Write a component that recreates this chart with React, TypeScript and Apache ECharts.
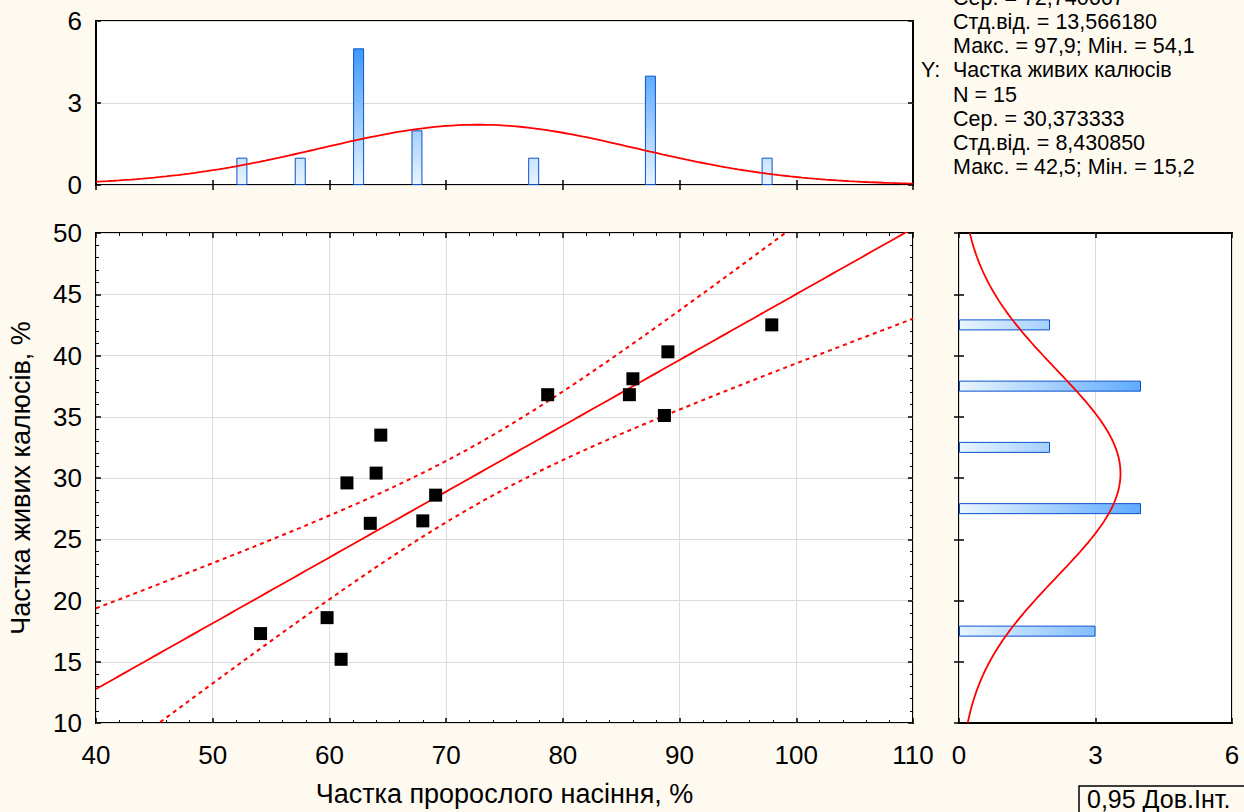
import React, { useEffect, useRef } from "react";
import * as echarts from "echarts";

// Scatter data: X = Частка пророслого насіння, %, Y = Частка живих калюсів, %
const xData = [54.1, 59.8, 61.0, 61.5, 63.5, 64.0, 64.4, 68.0, 69.1, 78.7, 85.7, 86.0, 88.7, 89.0, 97.9];
const yData = [17.3, 18.6, 15.2, 29.6, 26.3, 30.4, 33.5, 26.5, 28.6, 36.8, 36.8, 38.1, 35.1, 40.3, 42.5];

// Top histogram (X), bin centres and counts
const topBinCentres = [52.5, 57.5, 62.5, 67.5, 77.5, 87.5, 97.5];
const topCounts = [1, 1, 5, 2, 1, 4, 1];

// Right histogram (Y), bins 10-15 ... 45-50 and counts
const rightBins = ["10-15", "15-20", "20-25", "25-30", "30-35", "35-40", "40-45", "45-50"];
const rightCounts = [0, 3, 0, 4, 2, 4, 2, 0];

// Reported descriptive stats
const xMean = 72.740667;
const xSd = 13.56618;
const yMean = 30.373333;
const ySd = 8.43085;
const binWidth = 5;

const statLines = [
  "Сер. = 72,740667",
  "Стд.від. = 13,566180",
  "Макс. = 97,9; Мін. = 54,1",
  "Частка живих калюсів",
  "N = 15",
  "Сер. = 30,373333",
  "Стд.від. = 8,430850",
  "Макс. = 42,5; Мін. = 15,2",
];

const xTitle = "Частка пророслого насіння, %";
const yTitle = "Частка живих калюсів, %";
const legendText = "0,95 Дов.Інт.";

const FONT = '"Liberation Sans", Arial, sans-serif';

function normalPdf(v: number, m: number, s: number) {
  return Math.exp(-0.5 * ((v - m) / s) ** 2) / (s * Math.sqrt(2 * Math.PI));
}

function buildOption() {
  const n = xData.length;
  const mx = xData.reduce((a, b) => a + b, 0) / n;
  const my = yData.reduce((a, b) => a + b, 0) / n;
  let sxx = 0;
  let sxy = 0;
  for (let i = 0; i < n; i++) {
    sxx += (xData[i] - mx) ** 2;
    sxy += (xData[i] - mx) * (yData[i] - my);
  }
  const b = sxy / sxx;
  const a = my - b * mx;
  let sse = 0;
  for (let i = 0; i < n; i++) sse += (yData[i] - (a + b * xData[i])) ** 2;
  const s = Math.sqrt(sse / (n - 2));
  const t = 2.160369; // t(0.975, 13)

  const fitLine: number[][] = [];
  const upper: number[][] = [];
  const lower: number[][] = [];
  for (let x = 40; x <= 110.001; x += 0.5) {
    const yh = a + b * x;
    const h = t * s * Math.sqrt(1 / n + (x - mx) ** 2 / sxx);
    fitLine.push([x, yh]);
    upper.push([x, yh + h]);
    lower.push([x, yh - h]);
  }

  const topCurve: number[][] = [];
  for (let x = 40; x <= 110.001; x += 0.5) {
    topCurve.push([x, n * binWidth * normalPdf(x, xMean, xSd)]);
  }
  const rightCurve: number[][] = [];
  for (let y = 10; y <= 50.001; y += 0.25) {
    rightCurve.push([n * binWidth * normalPdf(y, yMean, ySd), y]);
  }

  const tick = { show: true, inside: true, length: 5, lineStyle: { color: "#000", width: 1.5 } };
  const minor = { show: true, splitNumber: 5, length: 3, lineStyle: { color: "#000", width: 1 } };
  const noLine = { show: false };
  const grid = { color: "#DCDCDC", width: 1 };
  const label = { fontSize: 26, color: "#000", fontFamily: FONT };
  const titleStyle = { fontSize: 27, color: "#000", fontFamily: FONT };

  const gridBase = {
    show: true,
    backgroundColor: "#FFFFFF",
    borderColor: "#000000",
    borderWidth: 2,
    containLabel: false,
    outerBoundsMode: "none",
  };

  const topGrad = new echarts.graphic.LinearGradient(
    0, 21, 0, 185,
    [
      { offset: 0, color: "#1A86FF" },
      { offset: 1, color: "#EAF5FF" },
    ],
    true
  );
  const rightGrad = new echarts.graphic.LinearGradient(
    959, 0, 1232, 0,
    [
      { offset: 0, color: "#EAF5FF" },
      { offset: 1, color: "#1A86FF" },
    ],
    true
  );

  const statFont = `21.5px ${FONT}`;
  const graphics: any[] = [];
  statLines.forEach((txt, i) => {
    graphics.push({
      type: "text",
      x: 953,
      y: 94.5 + 24.2 * (i - 4),
      style: { text: txt, font: statFont, fill: "#000", verticalAlign: "middle" },
    });
  });
  graphics.push({
    type: "text",
    x: 921,
    y: 94.5 + 24.2 * (3 - 4),
    style: { text: "Y:", font: statFont, fill: "#000", verticalAlign: "middle" },
  });
  graphics.push({
    type: "rect",
    shape: { x: 1079, y: 786, width: 220, height: 80 },
    style: { fill: "none", stroke: "#000", lineWidth: 1.5 },
  });
  graphics.push({
    type: "text",
    x: 1087,
    y: 799,
    style: { text: legendText, font: `25px ${FONT}`, fill: "#000", verticalAlign: "middle" },
  });

  return {
    animation: false,
    backgroundColor: "#FFFAF0",
    textStyle: { fontFamily: FONT },
    grid: [
      { ...gridBase, left: 96, top: 233, width: 817, height: 490 },
      { ...gridBase, left: 96, top: 21, width: 817, height: 164 },
      { ...gridBase, left: 959, top: 233, width: 273, height: 490 },
    ],
    xAxis: [
      {
        type: "value", gridIndex: 0, min: 40, max: 110, interval: 10, position: "bottom",
        axisLine: noLine, axisTick: tick, minorTick: minor,
        axisLabel: { ...label, margin: 19 },
        splitLine: { show: true, lineStyle: grid },
        name: xTitle, nameLocation: "middle", nameGap: 57,
        nameTextStyle: titleStyle,
      },
      {
        type: "value", gridIndex: 0, min: 40, max: 110, interval: 10, position: "top",
        axisLine: noLine, axisTick: tick, minorTick: minor, axisLabel: { show: false }, splitLine: { show: false },
      },
      {
        type: "value", gridIndex: 1, min: 40, max: 110, interval: 10, position: "bottom",
        axisLine: noLine, axisTick: tick, axisLabel: { show: false }, splitLine: { show: false },
      },
      {
        type: "value", gridIndex: 1, min: 40, max: 110, interval: 10, position: "top",
        axisLine: noLine, axisTick: tick, axisLabel: { show: false }, splitLine: { show: false },
      },
      {
        type: "value", gridIndex: 2, min: 0, max: 6, interval: 3, position: "bottom",
        axisLine: noLine, axisTick: tick, axisLabel: { ...label, margin: 19 },
        splitLine: { show: true, lineStyle: grid },
      },
      {
        type: "value", gridIndex: 2, min: 0, max: 6, interval: 3, position: "top",
        axisLine: noLine, axisTick: tick, axisLabel: { show: false }, splitLine: { show: false },
      },
    ],
    yAxis: [
      {
        type: "value", gridIndex: 0, min: 10, max: 50, interval: 5, position: "left",
        axisLine: noLine, axisTick: tick, minorTick: minor,
        axisLabel: { ...label, margin: 14 },
        splitLine: { show: true, lineStyle: grid },
        name: yTitle, nameLocation: "middle", nameGap: 62,
        nameTextStyle: titleStyle,
      },
      {
        type: "value", gridIndex: 0, min: 10, max: 50, interval: 5, position: "right",
        axisLine: noLine, axisTick: tick, minorTick: minor, axisLabel: { show: false }, splitLine: { show: false },
      },
      {
        type: "value", gridIndex: 1, min: 0, max: 6, interval: 3, position: "left",
        axisLine: noLine, axisTick: tick, axisLabel: { ...label, margin: 14 },
        splitLine: { show: true, lineStyle: grid },
      },
      {
        type: "value", gridIndex: 1, min: 0, max: 6, interval: 3, position: "right",
        axisLine: noLine, axisTick: tick, axisLabel: { show: false }, splitLine: { show: false },
      },
      {
        type: "category", gridIndex: 2, data: rightBins, position: "left", boundaryGap: true,
        axisLine: noLine, axisTick: { ...tick, alignWithLabel: false, interval: 0 },
        axisLabel: { show: false }, splitLine: { show: false },
      },
      {
        type: "value", gridIndex: 2, min: 10, max: 50, interval: 5, position: "right",
        axisLine: noLine, axisTick: tick, axisLabel: { show: false }, splitLine: { show: false },
      },
    ],
    series: [
      {
        type: "line", xAxisIndex: 0, yAxisIndex: 0, data: upper, showSymbol: false, symbol: "none",
        lineStyle: { color: "#FF0000", width: 2, type: [4, 4] }, clip: true, silent: true,
      },
      {
        type: "line", xAxisIndex: 0, yAxisIndex: 0, data: lower, showSymbol: false, symbol: "none",
        lineStyle: { color: "#FF0000", width: 2, type: [4, 4] }, clip: true, silent: true,
      },
      {
        type: "line", xAxisIndex: 0, yAxisIndex: 0, data: fitLine, showSymbol: false, symbol: "none",
        lineStyle: { color: "#FF0000", width: 1.8 }, clip: true, silent: true,
      },
      {
        type: "scatter", xAxisIndex: 0, yAxisIndex: 0,
        data: xData.map((x, i) => [x, yData[i]]),
        symbol: "rect", symbolSize: 13, itemStyle: { color: "#000", opacity: 1 }, z: 5,
      },
      {
        type: "bar", xAxisIndex: 2, yAxisIndex: 2,
        data: topBinCentres.map((c, i) => [c, topCounts[i]]),
        barWidth: 11,
        itemStyle: { color: topGrad, borderColor: "#0A52CC", borderWidth: 1 },
      },
      {
        type: "line", xAxisIndex: 2, yAxisIndex: 2, data: topCurve, showSymbol: false, symbol: "none",
        lineStyle: { color: "#FF0000", width: 1.8 }, z: 4,
      },
      {
        type: "bar", xAxisIndex: 4, yAxisIndex: 4,
        data: rightCounts.map((c) => (c === 0 ? "-" : c)),
        barWidth: 11,
        itemStyle: { color: rightGrad, borderColor: "#0A52CC", borderWidth: 1 },
      },
      {
        type: "line", xAxisIndex: 4, yAxisIndex: 5, data: rightCurve, showSymbol: false, symbol: "none",
        lineStyle: { color: "#FF0000", width: 1.8 }, z: 4,
      },
    ],
    graphic: graphics,
  };
}

export default function App() {
  const ref = useRef<HTMLDivElement>(null);
  useEffect(() => {
    if (!ref.current) return;
    const chart = echarts.init(ref.current, null, { renderer: "svg" });
    chart.setOption(buildOption() as any);
    return () => chart.dispose();
  }, []);
  return (
    <div
      ref={ref}
      style={{ position: "fixed", left: 0, top: 0, width: 1244, height: 812, background: "#FFFAF0" }}
    />
  );
}
